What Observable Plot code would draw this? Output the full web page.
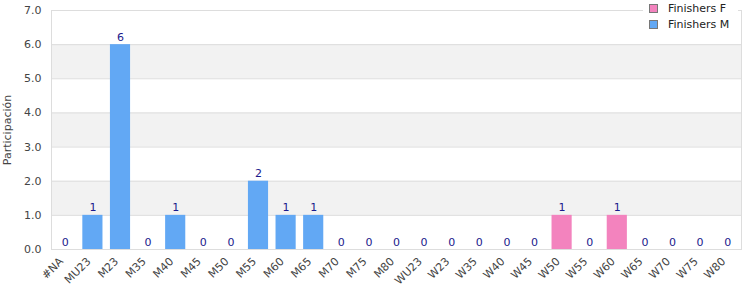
<!DOCTYPE html>
<html>
<head>
<meta charset="utf-8">
<script src="https://cdn.jsdelivr.net/npm/d3@7"></script>
<script src="https://cdn.jsdelivr.net/npm/@observablehq/plot@0.6"></script>
<style>
  html, body { margin: 0; padding: 0; background: #fff; }
  #wrap { position: relative; width: 750px; height: 300px; font-family: "DejaVu Sans", sans-serif; }
  #legend { position: absolute; left: 643px; top: 0px; width: 89px; background: #fff; padding: 0 0 2px 6px; font-size: 11px; color: #222; }
  .row { display: flex; align-items: center; height: 16px; white-space: nowrap; }
  .sw { width: 7px; height: 7px; border: 1px solid #777; margin-right: 10px; flex: none; }
</style>
</head>
<body>
<div id="wrap"><div id="legend"></div></div>
<script>
const categories = ["#NA","MU23","M23","M35","M40","M45","M50","M55","M60","M65","M70","M75","M80","WU23","W23","W35","W40","W45","W50","W55","W60","W65","W70","W75","W80"];
const finishersF = [0,0,0,0,0,0,0,0,0,0,0,0,0,0,0,0,0,0,1,0,1,0,0,0,0];
const finishersM = [0,1,6,0,1,0,0,2,1,1,0,0,0,0,0,0,0,0,0,0,0,0,0,0,0];
const seriesNames = ["Finishers F","Finishers M"];
const seriesColors = ["#f383be","#62a8f4"];
const yTicks = [0,1,2,3,4,5,6,7];
const greyBands = [1,3,5];

const data = [];
categories.forEach((c, i) => {
  data.push({cat: c, series: seriesNames[0], value: finishersF[i]});
  data.push({cat: c, series: seriesNames[1], value: finishersM[i]});
});
const totals = categories.map((c, i) => ({cat: c, total: finishersF[i] + finishersM[i]}));

const chart = Plot.plot({
  width: 750,
  height: 300,
  marginLeft: 51,
  marginRight: 9,
  marginTop: 10,
  marginBottom: 51,
  style: {fontFamily: "DejaVu Sans, sans-serif", fontSize: "11px", color: "#444", background: "#fff"},
  x: {domain: categories, paddingInner: 0.27, paddingOuter: 0.135, round: false, label: null, tickSize: 0, tickPadding: 10, tickRotate: -45},
  y: {domain: [0, 7], ticks: yTicks, tickFormat: d3.format(".1f"), tickSize: 0, tickPadding: 10, label: "Participación", labelAnchor: "center", labelArrow: "none"},
  color: {domain: seriesNames, range: seriesColors},
  marks: [
    Plot.rect(greyBands, {y1: d => d, y2: d => d + 1, fill: "#f2f2f2"}),
    Plot.ruleY(yTicks, {stroke: "#dddddd"}),
    Plot.frame({stroke: "#dddddd"}),
    Plot.barY(data, {x: "cat", y: "value", fill: "series"}),
    Plot.text(totals, {x: "cat", y: "total", text: d => String(d.total), dy: -4, lineAnchor: "bottom", fill: "#1a1a8c", fontSize: 11}),
    Plot.axisX({tickSize: 0, tickPadding: 10, tickRotate: -45, dx: -4, label: null, fill: "#444"})
  ]
});
document.getElementById("wrap").prepend(chart);

const legend = document.getElementById("legend");
seriesNames.forEach((n, i) => {
  const r = document.createElement("div");
  r.className = "row";
  const s = document.createElement("div");
  s.className = "sw";
  s.style.background = seriesColors[i];
  const t = document.createElement("span");
  t.textContent = n;
  r.appendChild(s); r.appendChild(t);
  legend.appendChild(r);
});
</script>
</body>
</html>
